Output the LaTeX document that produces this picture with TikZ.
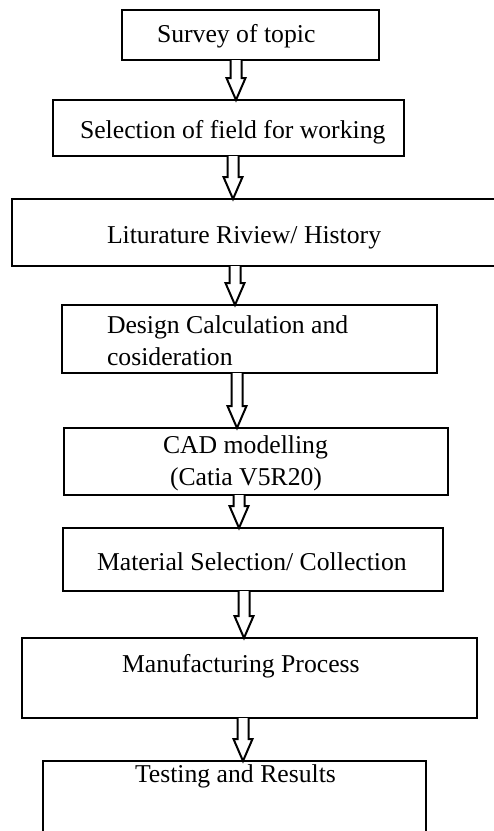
\documentclass[tikz,border=0pt]{standalone}
\usepackage{fontspec}
\setmainfont{Liberation Serif}
\usetikzlibrary{calc}
\tikzset{
  box/.style={draw=black, line width=2.6pt, fill=none, inner sep=0pt, outer sep=0pt, rectangle},
  txt/.style={anchor=base west, inner sep=0pt, outer sep=0pt, font=\fontsize{25.7pt}{32pt}\selectfont},
  blockarr/.style={draw=black, line width=2pt, fill=white, line join=miter}
}
\newcommand\mybox[6]{% name, x1, y1, x2, y2, dummy
  \node[box, minimum width={(#4-#2)*1pt}, minimum height={(#5-#3)*1pt}] (#1) at ({(#2+#4)/2},{(#3+#5)/2}) {};}
\newcommand\blockarrow[3]{% from, to, x
  \draw[blockarr] let \p1=(#1.south), \p2=(#2.north) in
    (#3pt-5.5pt,\y1) -- (#3pt-5.5pt,\y2+22pt) -- (#3pt-9.5pt,\y2+22pt) -- (#3pt,\y2)
    -- (#3pt+9.5pt,\y2+22pt) -- (#3pt+5.5pt,\y2+22pt) -- (#3pt+5.5pt,\y1);}
\begin{document}
\begin{tikzpicture}[x=1pt,y=-1pt]
\clip (0,0) rectangle (494,831);
\fill[white] (0,0) rectangle (494,831);
% boxes
\mybox{b1}{122}{10}{379}{60}{}
\mybox{b2}{53}{100}{404}{156}{}
\mybox{b3}{12}{199}{530}{266}{}
\mybox{b4}{62}{305}{437}{373}{}
\mybox{b5}{64}{428}{448}{495}{}
\mybox{b6}{63}{528}{443}{591}{}
\mybox{b7}{22}{638}{477}{718}{}
\mybox{b8}{43}{761}{426}{880}{}
% texts
\node[txt] (t1) at (157,42) {Survey of topic};
\node[txt] (t2) at (80,138) {Selection of field for working};
\node[txt] (t3) at (107,243) {Liturature Riview/ History};
\node[txt] (t4a) at (107,333) {Design Calculation and};
\node[txt] (t4b) at (107,365) {cosideration};
\node[txt] (t5a) at (163,453) {CAD modelling};
\node[txt] (t5b) at (170,485) {(Catia V5R20)};
\node[txt] (t6) at (97,570) {Material Selection/ Collection};
\node[txt] (t7) at (122,672) {Manufacturing Process};
\node[txt] (t8) at (135,782) {Testing and Results};
% arrows
\blockarrow{b1}{b2}{236}
\blockarrow{b2}{b3}{233}
\blockarrow{b3}{b4}{235}
\blockarrow{b4}{b5}{237}
\blockarrow{b5}{b6}{239}
\blockarrow{b6}{b7}{244}
\blockarrow{b7}{b8}{243}
\end{tikzpicture}
\end{document}
